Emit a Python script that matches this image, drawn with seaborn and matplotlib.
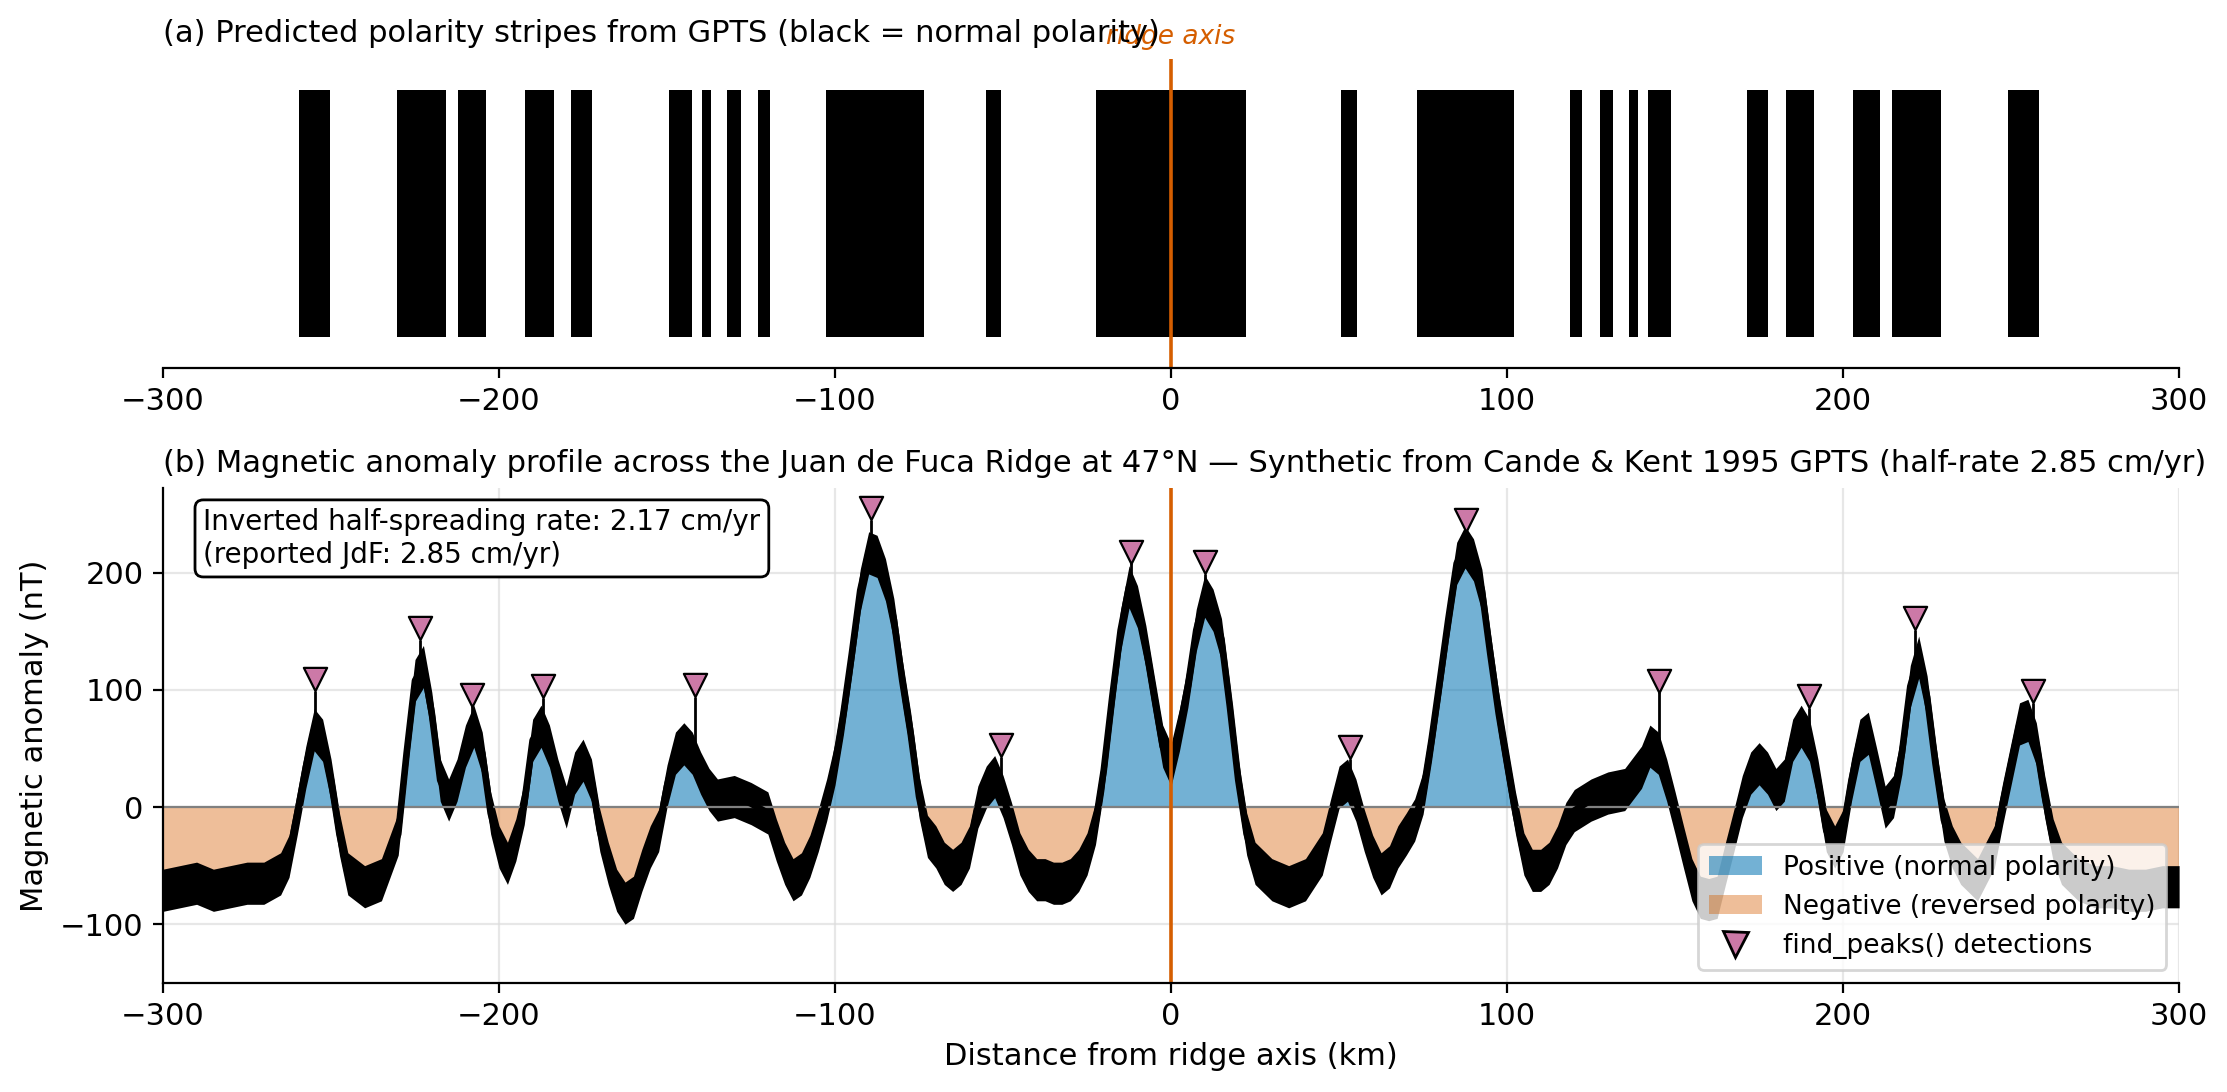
import numpy as np
import pandas as pd
import matplotlib
matplotlib.use('Agg')
import matplotlib.pyplot as plt
from matplotlib.patches import Patch
from matplotlib.lines import Line2D
import seaborn as sns

# normal-polarity blocks (km from ridge axis)
stripe_start = [-259.6, -230.3, -212.1, -192.3, -178.5, -149.4, -139.7, -132.2, -122.8,
                -102.7, -55.2, -22.2, 50.5, 73.3, 118.8, 127.7, 136.2, 142.0,
                171.4, 182.9, 202.8, 214.7, 249.0]
stripe_end = [-250.4, -215.7, -203.8, -183.5, -172.2, -142.7, -137.0, -128.0, -119.5,
              -73.4, -50.6, 22.2, 55.4, 102.1, 122.2, 131.6, 139.0, 148.8,
              177.6, 191.3, 211.1, 229.2, 258.2]

# anomaly profile (centre of the noisy trace)
dist_km = [-300, -295, -290, -285, -280, -275, -270, -265, -262.5, -260, -257.5, -255,
           -252.5, -250, -247.5, -245, -240, -235, -230, -227.5, -225, -222.5, -220,
           -217.5, -215, -212.5, -210, -207.5, -205, -202.5, -200, -197.5, -195, -192.5,
           -190, -187.5, -185, -182.5, -180, -177.5, -175, -172.5, -170, -167.5, -165,
           -162.5, -160, -157.5, -155, -152.5, -150, -147.5, -145, -142.5, -140, -137.5,
           -135, -130, -125, -120, -117.5, -115, -112.5, -110, -107.5, -105, -102.5,
           -100, -97.5, -95, -92.5, -90, -87.5, -85, -82.5, -80, -77.5, -75, -72.5, -70,
           -67.5, -65, -62.5, -60, -57.5, -55, -52.5, -50, -47.5, -45, -42.5, -40, -37.5,
           -35, -32.5, -30, -27.5, -25, -22.5, -20, -17.5, -15, -12.5, -10, -7.5, -5,
           -2.5, 0, 2.5, 5, 7.5, 10, 12.5, 15, 17.5, 20, 22.5, 25, 30, 35, 40, 45, 47.5,
           50, 52.5, 55, 57.5, 60, 62.5, 65, 67.5, 70, 72.5, 75, 77.5, 80, 82.5, 85, 87.5,
           90, 92.5, 95, 97.5, 100, 102.5, 105, 107.5, 110, 112.5, 115, 117.5, 120, 125,
           130, 135, 140, 142.5, 145, 147.5, 150, 152.5, 155, 157.5, 160, 162.5, 165,
           167.5, 170, 172.5, 175, 177.5, 180, 182.5, 185, 187.5, 190, 192.5, 195, 197.5,
           200, 202.5, 205, 207.5, 210, 212.5, 215, 217.5, 220, 222.5, 225, 227.5, 230,
           232.5, 235, 240, 245, 247.5, 250, 252.5, 255, 257.5, 260, 262.5, 265, 270,
           275, 280, 285, 290, 295, 300]
anomaly_nt = [-71, -68, -65, -71, -68, -65, -65, -57, -42, -5, 34, 66,
              57, 23, -23, -57, -68, -62, -23, 46, 108, 120, 80,
              23, 6, 23, 52, 69, 46, -5, -34, -48, -28, 3,
              57, 69, 52, 23, 0, 29, 40, 23, -20, -48, -71,
              -82, -77, -54, -34, -20, 18, 46, 54, 46, 29, 15,
              6, 9, 3, -5, -28, -48, -62, -57, -42, -20, 6,
              37, 80, 131, 185, 217, 214, 194, 160, 108, 63, 9, -25, -34,
              -48, -54, -48, -34, 0, 17, 26, 9, -14, -40, -54, -62, -62,
              -65, -65, -62, -54, -40, -14, 32, 94, 151, 188, 171, 137, 94,
              52, 36, 66, 103, 151, 180, 168, 143, 86, 23, -23, -48, -62, -68, -62, -40, -11,
              17, 23, 6, -20, -42, -57, -51, -34, -23, -11, 12, 57, 108, 160, 208, 222,
              211, 185, 131, 80, 37, -5, -40, -54, -54, -48, -34, -14, -3, 6,
              12, 15, 34, 52, 46, 23, -5, -34, -62, -77, -79, -77, -48,
              -20, 9, 29, 37, 29, 15, 23, 57, 69, 57, 23, -20, -34,
              -20, 23, 57, 63, 32, 0, 9, 46, 103, 128, 94, 37, -11,
              -34, -48, -62, -34, 3, 37, 71, 74, 54, 9, -28, -48, -62,
              -68, -68, -71, -71, -68, -68]
noise_halfwidth_nt = 18

# find_peaks() detections: position and top of the detected sample
peak_km = [-254.7, -223.6, -208.1, -186.9, -141.6, -89.2, -50.7, -12.0, 10.2, 53.2,
           87.8, 145.1, 189.8, 221.3, 256.5]
peak_nt = [99, 143, 86, 93, 94, 245, 43, 208, 199, 41, 235, 98, 85, 151, 89]

BLUE = '#0072B2'
VERMILION = '#D55E00'
PINK = '#CC79A7'

prof = pd.DataFrame({'km': dist_km, 'nT': anomaly_nt})
peaks = pd.DataFrame({'km': peak_km, 'nT': peak_nt})
x = prof['km'].to_numpy(dtype=float)
y = prof['nT'].to_numpy(dtype=float)

plt.rcParams['font.family'] = ['DejaVu Sans']
fig = plt.figure(figsize=(11.135, 5.46), dpi=200)
gs = fig.add_gridspec(2, 1, height_ratios=[1, 1.6], left=0.0732, right=0.9785,
                      top=0.946, bottom=0.100, hspace=0.30)
ax_a = fig.add_subplot(gs[0])
ax_b = fig.add_subplot(gs[1])

# (a) stripes
ax_a.broken_barh([(s, e - s) for s, e in zip(stripe_start, stripe_end)], (0.1, 0.8),
                 facecolors='black')
ax_a.axvline(0, color=VERMILION, lw=1.3)
ax_a.text(0, 1.03, 'ridge axis', transform=ax_a.get_xaxis_transform(), ha='center',
          va='bottom', color=VERMILION, style='italic', fontsize=9.5)
ax_a.set_xlim(-300, 300)
ax_a.set_ylim(0, 1)
ax_a.set_yticks([])
ax_a.set_xticks(range(-300, 301, 100))
ax_a.tick_params(labelsize=11)
ax_a.set_title('(a) Predicted polarity stripes from GPTS (black = normal polarity)',
               loc='left', fontsize=11)
sns.despine(ax=ax_a, left=True)

# (b) anomaly profile
ax_b.grid(True, color='#dddddd', lw=0.8, alpha=0.7)
ax_b.set_axisbelow(True)
ax_b.fill_between(x, 0, y, where=y > 0, interpolate=True, color=BLUE, alpha=0.55, lw=0)
ax_b.fill_between(x, 0, y, where=y < 0, interpolate=True, color=VERMILION, alpha=0.4, lw=0)
ax_b.axhline(0, color='grey', lw=0.8)
ax_b.fill_between(x, y - noise_halfwidth_nt, y + noise_halfwidth_nt, color='black', lw=0)
sns.lineplot(data=prof, x='km', y='nT', ax=ax_b, color='black', lw=2.4)
base = np.interp(peaks['km'], x, y)
ax_b.vlines(peaks['km'], base, peaks['nT'], color='black', lw=1)
sns.scatterplot(x=peaks['km'], y=peaks['nT'] + 10, ax=ax_b, marker='v', s=70,
                color=PINK, edgecolor='black', linewidth=0.8, zorder=5)
ax_b.axvline(0, color=VERMILION, lw=1.3)

ax_b.set_xlim(-300, 300)
ax_b.set_ylim(-150, 272)
ax_b.set_xticks(range(-300, 301, 100))
ax_b.set_yticks([-100, 0, 100, 200])
ax_b.tick_params(labelsize=11)
ax_b.set_xlabel('Distance from ridge axis (km)', fontsize=11)
ax_b.set_ylabel('Magnetic anomaly (nT)', fontsize=11)
ax_b.set_title('(b) Magnetic anomaly profile across the Juan de Fuca Ridge at 47\u00b0N \u2014 '
               'Synthetic from Cande & Kent 1995 GPTS (half-rate 2.85 cm/yr)',
               loc='left', fontsize=11)
ax_b.text(0.02, 0.96, 'Inverted half-spreading rate: 2.17 cm/yr\n(reported JdF: 2.85 cm/yr)',
          transform=ax_b.transAxes, ha='left', va='top', fontsize=10,
          bbox=dict(boxstyle='round,pad=0.3', facecolor='white', edgecolor='black'))
handles = [Patch(facecolor=BLUE, alpha=0.55, label='Positive (normal polarity)'),
           Patch(facecolor=VERMILION, alpha=0.4, label='Negative (reversed polarity)'),
           Line2D([], [], ls='none', marker='v', markersize=9, markerfacecolor=PINK,
                  markeredgecolor='black', label='find_peaks() detections')]
ax_b.legend(handles=handles, loc='lower right', fontsize=9.5)
sns.despine(ax=ax_b)

fig.savefig('out.png', dpi=200)
